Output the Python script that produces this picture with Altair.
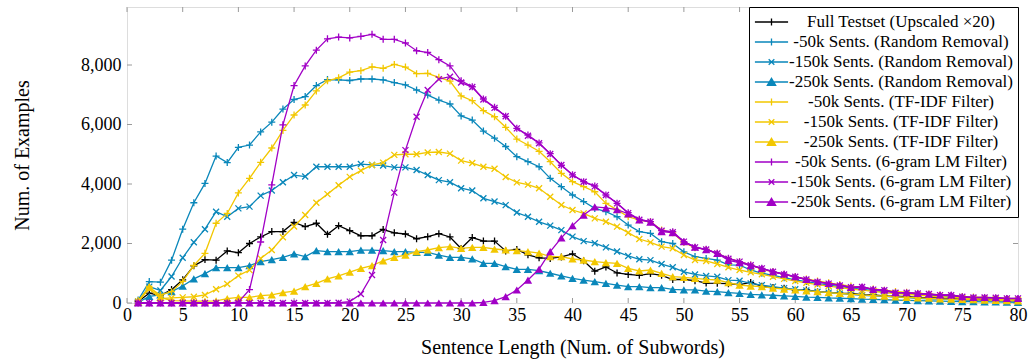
import altair as alt
import pandas as pd

x_vals = list(range(1, 81))

names = [
    "Full Testset (Upscaled ×20)",
    "-50k Sents. (Random Removal)",
    "-150k Sents. (Random Removal)",
    "-250k Sents. (Random Removal)",
    "-50k Sents. (TF-IDF Filter)",
    "-150k Sents. (TF-IDF Filter)",
    "-250k Sents. (TF-IDF Filter)",
    "-50k Sents. (6-gram LM Filter)",
    "-150k Sents. (6-gram LM Filter)",
    "-250k Sents. (6-gram LM Filter)",
]
BLUE, YEL, PUR = "#0A87BA", "#F2C700", "#A100C6"
colors = ["#000000", BLUE, BLUE, BLUE, YEL, YEL, YEL, PUR, PUR, PUR]
markers = ["plus", "plus", "cross", "tri", "plus", "cross", "tri", "plus", "cross", "tri"]

full_testset = [
    50, 330, 250, 450, 780, 1250, 1460, 1440, 1750, 1690,
    2000, 2220, 2400, 2400, 2710, 2570, 2680, 2310, 2600, 2430,
    2260, 2260, 2470, 2360, 2320, 2160, 2230, 2330, 2220, 1830,
    2200, 2080, 2080, 1750, 1800, 1620, 1520, 1500, 1550, 1650,
    1420, 1070, 1210, 1010, 960, 930, 990, 930, 790, 790,
    750, 670, 660, 650, 615, 690, 560, 520, 500, 430,
    440, 380, 360, 330, 320, 280, 270, 240, 230, 210,
    190, 180, 160, 150, 130, 120, 110, 100, 80, 70,
]
rand_50k = [
    100, 720, 700, 1440, 2480, 3370, 4020, 4940, 4720, 5230,
    5310, 5750, 6080, 6520, 6840, 6940, 7310, 7510, 7500, 7480,
    7530, 7530, 7500, 7410, 7330, 7160, 6990, 6820, 6690, 6290,
    6150, 5780, 5540, 5260, 4920, 4750, 4580, 4190, 3910, 3630,
    3410, 3180, 3070, 2900, 2620, 2400, 2340, 2060, 2000, 1720,
    1560, 1500, 1440, 1280, 1270, 1110, 1000, 930, 850, 780,
    720, 660, 600, 550, 510, 460, 420, 380, 350, 320,
    290, 260, 240, 220, 200, 180, 160, 150, 130, 110,
]
rand_150k = [
    50, 550, 420, 890, 1520, 2040, 2480, 3070, 2900, 3180,
    3240, 3610, 3780, 4060, 4300, 4250, 4580, 4580, 4580, 4580,
    4670, 4640, 4620, 4560, 4560, 4470, 4300, 4130, 4060, 3860,
    3780, 3520, 3410, 3290, 3040, 2900, 2730, 2600, 2450, 2230,
    2080, 2010, 1870, 1730, 1580, 1470, 1440, 1310, 1200, 1050,
    960, 910, 880, 770, 750, 660, 600, 550, 500, 460,
    420, 380, 350, 320, 290, 260, 240, 220, 200, 180,
    160, 140, 130, 120, 100, 90, 80, 70, 60, 60,
]
rand_250k = [
    20, 220, 270, 380, 570, 810, 990, 1190, 1190, 1190,
    1260, 1390, 1460, 1535, 1650, 1560, 1760, 1730, 1730, 1730,
    1780, 1780, 1760, 1730, 1730, 1700, 1700, 1610, 1535, 1535,
    1480, 1330, 1330, 1220, 1130, 1130, 1090, 1000, 910, 830,
    770, 720, 660, 600, 550, 550, 515, 515, 460, 440,
    440, 400, 380, 350, 325, 290, 270, 260, 240, 220,
    200, 190, 170, 160, 150, 130, 120, 110, 100, 90,
    80, 70, 60, 55, 50, 45, 40, 35, 30, 25,
]
tfidf_50k = [
    80, 520, 270, 380, 730, 1260, 1670, 2680, 3010, 3700,
    4190, 4730, 5210, 5800, 6320, 6655, 7130, 7470, 7570, 7760,
    7810, 7940, 7890, 8020, 7930, 7710, 7720, 7585, 7460, 6960,
    6800, 6465, 6260, 5905, 5510, 5310, 5100, 4750, 4360, 4080,
    3910, 3740, 3350, 3130, 2900, 2790, 2730, 2450, 2360, 2030,
    1860, 1800, 1670, 1500, 1390, 1280, 1130, 1050, 960, 880,
    810, 740, 680, 620, 570, 520, 470, 430, 390, 360,
    330, 300, 270, 250, 220, 200, 180, 160, 150, 130,
]
tfidf_150k = [
    50, 480, 150, 170, 190, 210, 270, 460, 640, 920,
    1110, 1500, 1780, 2210, 2570, 2960, 3370, 3660, 3960, 4240,
    4450, 4640, 4720, 4980, 5000, 5000, 5060, 5075, 5020, 4785,
    4705, 4580, 4510, 4235, 4056, 3980, 3855, 3570, 3294, 3126,
    3014, 2846, 2734, 2566, 2364, 2151, 2039, 1894, 1838, 1613,
    1445, 1412, 1311, 1199, 1109, 1031, 964, 885, 810, 740,
    680, 620, 570, 520, 470, 430, 390, 350, 320, 290,
    260, 240, 210, 190, 170, 160, 140, 130, 110, 100,
]
tfidf_250k = [
    30, 550, 190, 80, 70, 60, 60, 70, 150, 190,
    190, 250, 270, 350, 400, 550, 660, 810, 910, 1040,
    1165, 1255, 1420, 1535, 1613, 1725, 1782, 1860, 1894, 1838,
    1871, 1871, 1815, 1782, 1759, 1725, 1680, 1557, 1557, 1479,
    1445, 1390, 1356, 1334, 1165, 1076, 1109, 997, 885, 862,
    829, 795, 773, 683, 605, 571, 549, 500, 470, 440,
    410, 380, 350, 320, 300, 270, 250, 230, 210, 190,
    170, 160, 140, 130, 120, 110, 100, 90, 80, 70,
]
lm_50k = [
    0, 0, 0, 0, 0, 0, 0, 0, 0, 30,
    450, 2050, 3970, 5990, 7310, 7970, 8500, 8880, 8940, 8910,
    8965, 9030, 8865, 8865, 8740, 8480, 8420, 8180, 7970, 7470,
    7270, 6857, 6577, 6275, 5871, 5647, 5380, 5020, 4630, 4310,
    4078, 3933, 3630, 3350, 3036, 2812, 2734, 2431, 2397, 2062,
    1871, 1804, 1669, 1502, 1390, 1277, 1165, 1050, 970, 880,
    790, 710, 650, 590, 520, 530, 450, 420, 340, 340,
    310, 290, 260, 260, 200, 180, 180, 170, 150, 150,
]
lm_150k = [
    0, 0, 0, 0, 0, 0, 0, 0, 0, 0,
    0, 0, 0, 0, 0, 0, 0, 0, 10, 45,
    300, 940, 2120, 3710, 5140, 6263, 7160, 7525, 7608, 7410,
    7260, 6840, 6560, 6275, 5871, 5620, 5368, 5008, 4639, 4303,
    4078, 3920, 3630, 3350, 3020, 2800, 2734, 2431, 2380, 2062,
    1871, 1800, 1669, 1490, 1390, 1270, 1165, 1050, 960, 880,
    790, 710, 650, 590, 530, 540, 450, 430, 345, 345,
    320, 300, 265, 260, 210, 185, 185, 175, 155, 155,
]
lm_250k = [
    0, 0, 0, 0, 0, 0, 0, 0, 0, 0,
    0, 0, 0, 0, 0, 0, 0, 0, 0, 0,
    0, 0, 0, 0, 0, 0, 0, 0, 0, 0,
    0, 20, 78, 213, 437, 773, 1140, 1725, 2190, 2600,
    2958, 3230, 3200, 3140, 3000, 2790, 2720, 2397, 2364, 2062,
    1880, 1790, 1669, 1430, 1360, 1255, 1165, 1053, 975, 885,
    795, 717, 661, 605, 527, 549, 459, 437, 347, 347,
    325, 302, 269, 269, 213, 190, 190, 179, 157, 157,
]
series_values = [full_testset, rand_50k, rand_150k, rand_250k,
                 tfidf_50k, tfidf_150k, tfidf_250k, lm_50k, lm_150k, lm_250k]

x_tick_values = list(range(0, 81, 5))
y_tick_values = [0, 2000, 4000, 6000, 8000]

FONT = "Liberation Serif"
W, H = 891, 296

rows = []
for name, vals in zip(names, series_values):
    for xv, v in zip(x_vals, vals):
        rows.append({"series": name, "x": xv, "v": v})
df = pd.DataFrame(rows)

xs = alt.Scale(domain=[0, 80], nice=False, zero=False)
ys = alt.Scale(domain=[0, 9950], nice=False)
xaxis = alt.Axis(values=x_tick_values, format="d", title="Sentence Length (Num. of Subwords)",
                 ticks=False, domain=False, grid=False, labelFont=FONT, labelFontSize=18,
                 labelPadding=3, labelColor="#000", titleFont=FONT, titleFontSize=20,
                 titleFontWeight="normal", titleColor="#000", titlePadding=13, labelFlush=False)
yaxis = alt.Axis(values=y_tick_values, format=",d", title="Num. of Examples",
                 ticks=False, domain=False, grid=False, labelFont=FONT, labelFontSize=18,
                 labelPadding=6, labelColor="#000", titleFont=FONT, titleFontSize=20,
                 titleFontWeight="normal", titleColor="#000", titlePadding=48, labelFlush=False)

X = lambda f: alt.X(f, type="quantitative", scale=xs, axis=xaxis)
Y = lambda f: alt.Y(f, type="quantitative", scale=ys, axis=yaxis)

layers = []
xt = pd.DataFrame({"t": x_tick_values})
yt = pd.DataFrame({"t": y_tick_values})
TICK = "#9a9a9a"
layers.append(alt.Chart(xt).mark_rule(color=TICK, strokeWidth=1).encode(
    x=X("t"), y=alt.value(H), y2=alt.value(H - 5)))
layers.append(alt.Chart(xt).mark_rule(color=TICK, strokeWidth=1).encode(
    x=X("t"), y=alt.value(0), y2=alt.value(5)))
layers.append(alt.Chart(yt).mark_rule(color=TICK, strokeWidth=1).encode(
    y=Y("t"), x=alt.value(0), x2=alt.value(5)))
layers.append(alt.Chart(yt).mark_rule(color=TICK, strokeWidth=1).encode(
    y=Y("t"), x=alt.value(W - 5), x2=alt.value(W)))

marker_path = {
    "plus": "M-1,0H1M0,-1V1",
    "cross": "M-1,-1L1,1M-1,1L1,-1",
}
for name, col, mk in zip(names, colors, markers):
    sub = df[df["series"] == name]
    layers.append(alt.Chart(sub).mark_line(color=col, strokeWidth=1.3).encode(
        x=X("x"), y=Y("v")))
    if mk == "tri":
        pm = alt.Chart(sub).mark_point(shape="triangle-up", filled=True, size=70,
                                       color=col, opacity=1, strokeWidth=0)
    else:
        pm = alt.Chart(sub).mark_point(shape=marker_path[mk], filled=False,
                                       size=49 if mk == "plus" else 36,
                                       color=col, opacity=1, strokeWidth=1.3)
    layers.append(pm.encode(x=X("x"), y=Y("v")))

legend_paths = {
    "plus": "M-1,0H1M0,-0.21V0.21",
    "cross": "M-1,0H1M-0.17,-0.17L0.17,0.17M-0.17,0.17L0.17,-0.17",
    "tri": "M-1,0H1M0,-0.22L0.25,0.2L-0.25,0.2Z",
}
leg = alt.Legend(title=None, orient="top-right", offset=0, padding=5,
                 strokeColor="#000", fillColor="#fff", labelFont=FONT, labelFontSize=17,
                 labelColor="#000", labelAlign="center", labelOffset=112, labelLimit=0,
                 symbolSize=1100, symbolStrokeWidth=1.3, symbolOpacity=1, rowPadding=0,
                 clipHeight=20)
lg = alt.Chart(df).mark_point(clip=True, strokeWidth=1.3).encode(
    x=X("x"), y=alt.value(-2000),
    fill=alt.Fill("series:N", scale=alt.Scale(domain=names, range=colors), legend=leg),
    stroke=alt.Stroke("series:N", scale=alt.Scale(domain=names, range=colors), legend=leg),
    shape=alt.Shape("series:N", scale=alt.Scale(domain=names,
                    range=[legend_paths[m] for m in markers]), legend=leg),
)
layers.append(lg)

chart = alt.layer(*layers).properties(
    width=W, height=H,
    autosize=alt.AutoSizeParams(type="none"),
    padding={"left": 127, "top": 7, "right": 12, "bottom": 57},
).configure_view(stroke="#222", strokeWidth=1).configure(background="white")

chart.save("out.html", embed_options={"renderer": "svg", "actions": False})
